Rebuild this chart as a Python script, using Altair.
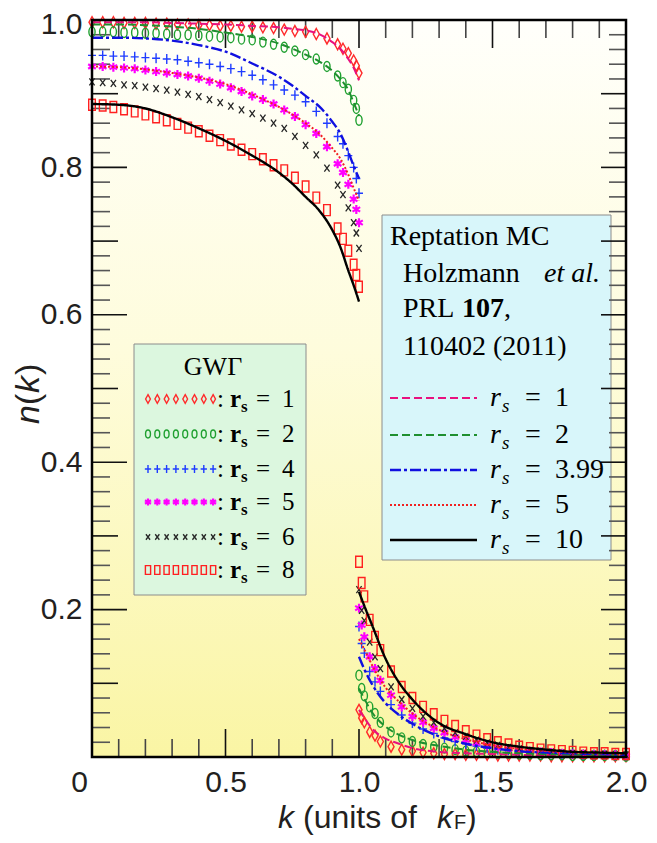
import altair as alt
import pandas as pd

# ---------------- layout constants ----------------
W, H = 534, 737           # plot area (pixels)
XMAX, YMAX = 2.0, 1.0

def dx(px):
    return px * XMAX / W

def dy(py):
    return YMAX - py * YMAX / H

# ---------------- data: GW-Gamma points ----------------
k_lo = [0.0, 0.04, 0.08, 0.12, 0.16, 0.20, 0.24, 0.28, 0.32, 0.36, 0.40, 0.44, 0.48, 0.52, 0.56,
        0.60, 0.64, 0.68, 0.72, 0.76, 0.80, 0.84, 0.88, 0.92, 0.94, 0.96, 0.98, 0.99, 1.0]
k_hi = [1.0, 1.01, 1.02, 1.04, 1.06, 1.08, 1.12, 1.16, 1.20, 1.24, 1.28, 1.32, 1.36, 1.40, 1.44,
        1.48, 1.52, 1.56, 1.60, 1.64, 1.68, 1.72, 1.76, 1.80, 1.84, 1.88, 1.92, 1.96, 2.0]

gw1_lo = [.997, .997, .997, .996, .996, .996, .995, .995, .994, .994, .993, .993, .992, .992, .991,
          .991, .990, .989, .987, .985, .984, .981, .975, .967, .961, .955, .945, .938, .928]
gw2_lo = [.984, .984, .984, .983, .983, .982, .982, .981, .980, .980, .979, .978, .977, .976, .974,
          .973, .970, .967, .963, .958, .953, .947, .937, .924, .915, .906, .891, .880, .864]
gw4_lo = [.952, .952, .951, .951, .950, .949, .948, .947, .946, .944, .942, .940, .937, .934, .930,
          .925, .919, .912, .905, .898, .889, .876, .860, .842, .832, .816, .800, .785, .765]
gw5_lo = [.937, .937, .936, .935, .934, .932, .930, .928, .926, .924, .921, .917, .913, .908, .903,
          .897, .892, .886, .878, .869, .858, .846, .828, .805, .793, .777, .757, .743, .725]
gw6_lo = [.916, .915, .914, .912, .911, .909, .907, .905, .902, .899, .896, .892, .888, .883, .878,
          .873, .867, .860, .853, .842, .830, .817, .799, .776, .763, .745, .725, .711, .690]
gw8_lo = [.885, .884, .882, .879, .876, .872, .868, .864, .859, .854, .849, .843, .837, .831, .824,
          .818, .811, .803, .796, .786, .774, .759, .742, .717, .703, .687, .668, .654, .638]

gw1_hi = [.064, .053, .047, .034, .029, .021, .014, .010, .008, .006, .005, .004, .004, .003, .003,
          .003, .002, .002, .002, .002, .002, .001, .001, .001, .001, .001, .001, .001, .001]
gw2_hi = [.111, .093, .083, .068, .059, .047, .034, .026, .021, .017, .014, .012, .010, .008, .007,
          .006, .005, .005, .004, .004, .003, .003, .003, .002, .002, .002, .002, .002, .001]
gw4_hi = [.177, .154, .141, .116, .102, .089, .071, .057, .046, .038, .032, .026, .021, .018, .015,
          .012, .010, .009, .007, .006, .005, .005, .004, .004, .003, .003, .003, .002, .002]
gw5_hi = [.202, .179, .163, .136, .120, .104, .084, .068, .055, .047, .039, .033, .027, .023, .019,
          .016, .013, .011, .009, .008, .007, .006, .005, .004, .004, .003, .003, .003, .002]
gw6_hi = [.227, .199, .185, .156, .136, .120, .095, .078, .066, .055, .047, .039, .033, .028, .023,
          .019, .016, .013, .011, .009, .008, .007, .006, .005, .005, .004, .004, .003, .003]
gw8_hi = [.265, .236, .218, .186, .163, .145, .116, .095, .080, .068, .058, .049, .042, .035, .029,
          .024, .020, .017, .014, .012, .010, .009, .008, .007, .006, .005, .005, .004, .004]

# ---------------- data: Reptation MC curves ----------------
kq_lo = [0.0, 0.1, 0.2, 0.3, 0.4, 0.5, 0.6, 0.7, 0.75, 0.8, 0.85, 0.9, 0.93, 0.96, 0.98, 1.0]
kq_hi = [1.0, 1.02, 1.05, 1.1, 1.15, 1.2, 1.3, 1.4, 1.5, 1.6, 1.7, 1.8, 1.9, 2.0]

qmc1_lo = [.997, .997, .997, .996, .995, .994, .992, .990, .988, .986, .981, .970, .961, .947, .935, .918]
qmc2_lo = [.994, .994, .993, .991, .988, .983, .977, .968, .961, .953, .944, .931, .920, .905, .888, .870]
qmc399_lo = [.976, .976, .975, .972, .966, .957, .941, .923, .911, .897, .883, .862, .846, .821, .802, .785]
qmc5_lo = [.937, .936, .933, .928, .922, .913, .899, .882, .872, .860, .846, .826, .812, .790, .772, .755]
qmc10_lo = [.886, .885, .880, .868, .853, .836, .816, .793, .778, .760, .742, .715, .692, .660, .640, .618]

qmc1_hi = [.064, .053, .038, .025, .018, .012, .007, .005, .004, .003, .002, .002, .002, .001]
qmc2_hi = [.093, .079, .060, .041, .030, .023, .015, .010, .007, .005, .004, .003, .003, .002]
qmc399_hi = [.136, .119, .098, .073, .057, .045, .028, .018, .012, .008, .006, .005, .004, .003]
qmc5_hi = [.160, .146, .124, .094, .075, .059, .037, .024, .016, .011, .008, .006, .005, .004]
qmc10_hi = [.224, .205, .178, .133, .101, .078, .046, .031, .020, .014, .010, .007, .006, .005]

gw_labels = ["1", "2", "4", "5", "6", "8"]
qmc_labels = ["1", "2", "3.99", "5", "10"]

# ---------------- styles ----------------
XS = alt.Scale(domain=[0, XMAX], nice=False, zero=False)
YS = alt.Scale(domain=[0, YMAX], nice=False, zero=False)
XAXIS = alt.Axis(values=[0, 0.5, 1, 1.5, 2],
                 labelExpr="datum.value == 0 ? '0' : format(datum.value, '.1f')",
                 ticks=False, domain=False, grid=False, title=None,
                 labelFont="Liberation Sans", labelFontSize=30, labelColor="#231f20",
                 labelPadding=10, labelFlush=False,
                 labelOffset={"condition": {"test": "datum.value == 0", "value": -13}, "value": 0})
YAXIS = alt.Axis(values=[0.2, 0.4, 0.6, 0.8, 1.0], format=".1f",
                 ticks=False, domain=False, grid=False, title=None,
                 labelFont="Liberation Sans", labelFontSize=30, labelColor="#231f20",
                 labelPadding=10,
                 labelOffset={"condition": {"test": "datum.value == 1", "value": 4}, "value": 0})

def ex(f):
    return alt.X(f, type="quantitative", scale=XS, axis=XAXIS)

def ey(f):
    return alt.Y(f, type="quantitative", scale=YS, axis=YAXIS)

ONE = alt.Data(values=[{"a": 1}])

def txt(t, px, py, size=28, font="Liberation Serif", style="normal", weight="normal",
        align="left", angle=0, color="black", baseline="alphabetic"):
    return alt.Chart(ONE).mark_text(
        text=t, font=font, fontSize=size, fontStyle=style, fontWeight=weight,
        align=align, baseline=baseline, angle=angle, color=color
    ).encode(x=alt.value(px), y=alt.value(py))

def box(x0, y0, x1, y1, fill):
    return alt.Chart(ONE).mark_rect(fill=fill, stroke="#8c8c8c", strokeWidth=1).encode(
        x=alt.value(x0), x2=alt.value(x1), y=alt.value(y0), y2=alt.value(y1))

# ---------------- background ----------------
grad = alt.LinearGradient(
    gradient="linear", x1=0, x2=0, y1=0, y2=1,
    stops=[alt.GradientStop(color="#fffffb", offset=0),
           alt.GradientStop(color="#fefcdc", offset=0.45),
           alt.GradientStop(color="#faf5a4", offset=1)])
background = alt.Chart(ONE).mark_rect(color=grad).encode(
    x=alt.value(0), x2=alt.value(W), y=alt.value(0), y2=alt.value(H))

# ---------------- ticks (inward) ----------------
tick_rows = []
for i in range(51):
    v = i * 0.02
    if i % 10 == 0:
        L, c = 35, "#111"
    elif i % 5 == 0:
        L, c = 26, "#111"
    else:
        L, c = 18, "#555"
    tick_rows.append({"x": 0, "x2": dx(L), "y": v, "y2": v, "c": c})
    Lr = 25 if i % 5 == 0 else 17
    tick_rows.append({"x": XMAX, "x2": XMAX - dx(Lr), "y": v, "y2": v, "c": c})
for i in range(21):
    v = i * 0.1
    L = 28 if i % 5 == 0 else 18
    c = "#111" if i % 5 == 0 else "#444"
    tick_rows.append({"x": v, "x2": v, "y": 0, "y2": L / H, "c": c})
    tick_rows.append({"x": v, "x2": v, "y": YMAX, "y2": YMAX - L / H, "c": c})
ticks = alt.Chart(pd.DataFrame(tick_rows)).mark_rule(strokeWidth=1.6).encode(
    x=ex("x"), x2="x2", y=ey("y"), y2="y2", color=alt.Color("c:N", scale=None))

# ---------------- GW-Gamma points (+ legend samples) ----------------
SHAPES = {
    "1": ("M0,-1L0.55,0L0,1L-0.55,0Z", "#ff2a2a", 121, 1.4),
    "2": ("M0,-1A0.62,1 0 1,1 0,1A0.62,1 0 1,1 0,-1Z", "#1fa030", 100, 1.4),
    "4": ("M-0.8,0L0.8,0M0,-1L0,1", "#1f3cff", 100, 1.4),
    "5": ("M0,-1L0,1M-0.85,-0.5L0.85,0.5M-0.85,0.5L0.85,-0.5", "#ff00ff", 81, 2.2),
    "6": ("M-0.75,-1L0.75,1M-0.75,1L0.75,-1", "#262626", 49, 1.3),
    "8": ("M-0.6,-1L0.6,-1L0.6,1L-0.6,1Z", "#ff2020", 121, 1.4),
}
gw_lo = {"1": gw1_lo, "2": gw2_lo, "4": gw4_lo, "5": gw5_lo, "6": gw6_lo, "8": gw8_lo}
gw_hi = {"1": gw1_hi, "2": gw2_hi, "4": gw4_hi, "5": gw5_hi, "6": gw6_hi, "8": gw8_hi}

GW_ROW_Y = [379, 414, 449, 482, 517, 550]      # legend row centres (plot px)
point_layers = []
for r, lab in enumerate(gw_labels):
    path, col, sz, sw = SHAPES[lab]
    lo, hi = gw_lo[lab], gw_hi[lab]
    assert len(lo) == len(k_lo) and len(hi) == len(k_hi)
    rows = [{"k": k, "n": n, "s": sz} for k, n in zip(k_lo, lo)]
    rows += [{"k": k, "n": n, "s": sz} for k, n in zip(k_hi, hi)]
    for j in range(8):
        rows.append({"k": dx(56 + j * 9.3), "n": dy(GW_ROW_Y[r]), "s": sz * 0.62})
    point_layers.append(
        alt.Chart(pd.DataFrame(rows)).mark_point(
            shape=path, filled=False, color=col, strokeWidth=sw, opacity=1
        ).encode(x=ex("k"), y=ey("n"), size=alt.Size("s:Q", scale=None))
    )

# ---------------- Reptation MC lines (+ legend samples) ----------------
Q_STYLE = {
    "1": ("#e8117f", [8, 4], 2.0),
    "2": ("#1f8f2f", [8, 4], 2.0),
    "3.99": ("#1010e0", [11, 3, 3, 3], 2.4),
    "5": ("#f02020", [2, 2], 2.0),
    "10": ("#000000", [1, 0], 2.4),
}
q_lo = {"1": qmc1_lo, "2": qmc2_lo, "3.99": qmc399_lo, "5": qmc5_lo, "10": qmc10_lo}
q_hi = {"1": qmc1_hi, "2": qmc2_hi, "3.99": qmc399_hi, "5": qmc5_hi, "10": qmc10_hi}
Q_ROW_Y = [378, 415, 450, 485, 520]
line_layers = []
for r, lab in enumerate(qmc_labels):
    col, dash, sw = Q_STYLE[lab]
    rows = [{"k": k, "n": n, "seg": "a"} for k, n in zip(kq_lo, q_lo[lab])]
    rows += [{"k": k, "n": n, "seg": "b"} for k, n in zip(kq_hi, q_hi[lab])]
    rows += [{"k": dx(298), "n": dy(Q_ROW_Y[r]), "seg": "leg"},
             {"k": dx(385), "n": dy(Q_ROW_Y[r]), "seg": "leg"}]
    line_layers.append(
        alt.Chart(pd.DataFrame(rows)).mark_line(
            color=col, strokeDash=dash, strokeWidth=sw, interpolate="monotone"
        ).encode(x=ex("k"), y=ey("n"), detail="seg:N")
    )

# ---------------- legends: boxes and texts ----------------
gw_box = box(42, 324, 214, 575, "#dcf7df")
q_box = box(290, 195, 519, 540, "#d8f6fa")

texts = [txt("GWΓ", 121, 355, size=26, align="center")]
GW_BASE = [387, 422, 457, 490, 525, 558]
for lab, b in zip(gw_labels, GW_BASE):
    texts += [
        txt(":", 125, b, size=25),
        txt("r", 138, b, size=25, weight="bold"),
        txt("s", 149, b + 5, size=17, weight="bold"),
        txt("=", 164, b, size=25),
        txt(lab, 190, b, size=25),
    ]

texts += [
    txt("Reptation MC", 298, 225, size=28),
    txt("Holzmann", 311, 262, size=28),
    txt("et al.", 452, 262, size=28, style="italic"),
    txt("PRL", 311, 297, size=28),
    txt("107", 370, 297, size=28, weight="bold"),
    txt(",", 412, 297, size=28),
    txt("110402 (2011)", 311, 335, size=28),
]
Q_BASE = [386, 423, 458, 493, 528]
for lab, b in zip(qmc_labels, Q_BASE):
    texts += [
        txt("r", 398, b, size=28, style="italic"),
        txt("s", 410, b + 6, size=19, style="italic"),
        txt("=", 433, b, size=28),
        txt(lab, 463, b, size=28),
    ]

# ---------------- axis titles ----------------
SANS = "Liberation Sans"
INK = "#231f20"
texts += [
    txt("k", 186, 808, size=32, font=SANS, style="italic", color=INK),
    txt("(units of", 211, 808, size=32, font=SANS, color=INK),
    txt("k", 345, 808, size=32, font=SANS, style="italic", color=INK),
    txt("F", 362, 809, size=20, font=SANS, color=INK),
    txt(")", 374, 808, size=32, font=SANS, color=INK),
]
texts += [
    txt("n", -53, 404, size=34, font=SANS, style="italic", angle=270, color=INK),
    txt("(", -53, 385, size=34, font=SANS, angle=270, color=INK),
    txt("k", -53, 373, size=34, font=SANS, style="italic", angle=270, color=INK),
    txt(")", -53, 355, size=34, font=SANS, angle=270, color=INK),
]

frame = alt.Chart(ONE).mark_rect(fillOpacity=0, stroke="black", strokeWidth=2.5).encode(
    x=alt.value(0), x2=alt.value(W), y=alt.value(0), y2=alt.value(H))

chart = alt.layer(
    background, gw_box, q_box, ticks, *point_layers, *line_layers, frame, *texts
).properties(
    width=W, height=H,
    autosize=alt.AutoSizeParams(type="none"),
    padding={"left": 84, "top": 12, "right": 23, "bottom": 78},
).configure_view(stroke=None).configure(background="white")

chart.save("out.html", embed_options={"renderer": "svg", "actions": False})
